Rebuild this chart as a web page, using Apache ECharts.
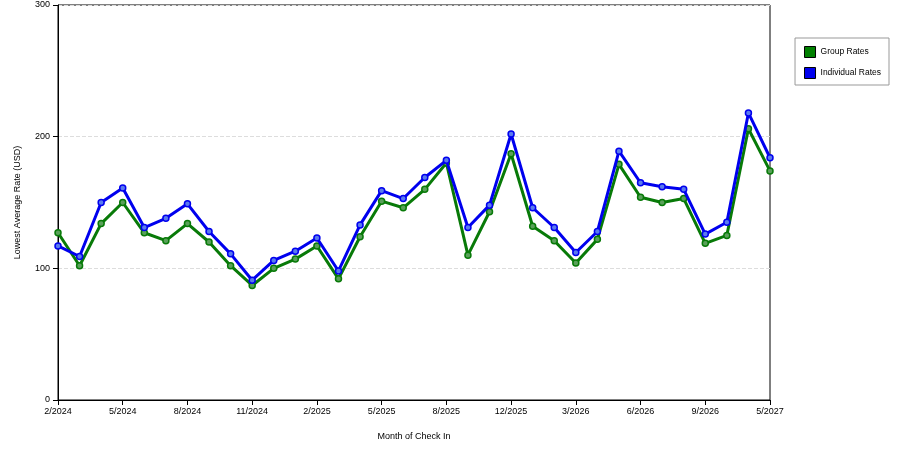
<!DOCTYPE html>
<html><head><meta charset="utf-8">
<script src="https://cdn.jsdelivr.net/npm/echarts@6/dist/echarts.min.js"></script>
<style>html,body{margin:0;padding:0;background:#fff}#c{width:900px;height:450px}</style>
</head><body><div id="c"></div>
<script>
const categories = ["2/2024","3/2024","4/2024","5/2024","6/2024","7/2024","8/2024","9/2024","10/2024","11/2024","12/2024","1/2025","2/2025","3/2025","4/2025","5/2025","6/2025","7/2025","8/2025","9/2025","10/2025","12/2025","1/2026","2/2026","3/2026","4/2026","5/2026","6/2026","7/2026","8/2026","9/2026","10/2026","11/2026","5/2027"];
const tickLabels = {0:"2/2024",3:"5/2024",6:"8/2024",9:"11/2024",12:"2/2025",15:"5/2025",18:"8/2025",21:"12/2025",24:"3/2026",27:"6/2026",30:"9/2026",33:"5/2027"};
const groupRates = [127,102,134,150,127,121,134,120,102,87,100,107,117,92,124,151,146,160,180,110,143,187,132,121,104,122,179,154,150,153,119,125,206,174];
const individualRates = [117,109,150,161,131,138,149,128,111,91,106,113,123,98,133,159,153,169,182,131,148,202,146,131,112,128,189,165,162,160,126,135,218,184];
const yTicks = [0,100,200,300];
const f = 'Arial, "Liberation Sans", sans-serif';
const chart = echarts.init(document.getElementById('c'));
function mk(name, data, color, fill){
  return {name, type:'line', data, symbol:'circle', symbolSize:6, z: name==='Group Rates'?2:3,
    lineStyle:{color, width:3}, itemStyle:{color:fill, borderColor:color, borderWidth:1.5}};
}
chart.setOption({
  animation:false,
  grid:{left:58,right:130,top:5,bottom:50,show:true,borderColor:'#000',borderWidth:1},
  legend:{right:11,top:38,orient:'vertical',itemWidth:11,itemHeight:11,itemGap:9,padding:[8,8,6,9],
    borderColor:'#999',borderWidth:1,borderRadius:0,textStyle:{fontSize:8.5,fontFamily:f,color:'#000'},
    icon:'rect',
    data:[{name:'Group Rates',itemStyle:{color:'#008000',borderColor:'#000',borderWidth:1}},
          {name:'Individual Rates',itemStyle:{color:'#0000ee',borderColor:'#000',borderWidth:1}}]},
  xAxis:{type:'category',data:categories,boundaryGap:false,name:'Month of Check In',nameLocation:'middle',nameGap:32,
    nameTextStyle:{fontSize:9,fontFamily:f,color:'#000'},
    axisLine:{lineStyle:{color:'#000'}},
    axisTick:{interval:(i)=>tickLabels[i]!==undefined,length:5,lineStyle:{color:'#000'}},
    axisLabel:{interval:(i)=>tickLabels[i]!==undefined,formatter:(v,i)=>tickLabels[i]||'',fontSize:9,fontFamily:f,color:'#000',margin:7},
    splitLine:{show:false}},
  yAxis:{type:'value',min:yTicks[0],max:yTicks[yTicks.length-1],interval:100,name:'Lowest Average Rate (USD)',nameLocation:'middle',nameGap:36,
    nameTextStyle:{fontSize:9,fontFamily:f,color:'#000'},
    axisLine:{show:true,lineStyle:{color:'#000'}},axisTick:{show:true,length:5,lineStyle:{color:'#000'}},
    axisLabel:{fontSize:9,fontFamily:f,color:'#000'},
    splitLine:{show:true,lineStyle:{color:'#ddd',type:'dashed'}}},
  series:[mk('Group Rates',groupRates,'#087a08','#5aa05a'), mk('Individual Rates',individualRates,'#0000ee','#5a7aee')]
});
</script></body></html>
